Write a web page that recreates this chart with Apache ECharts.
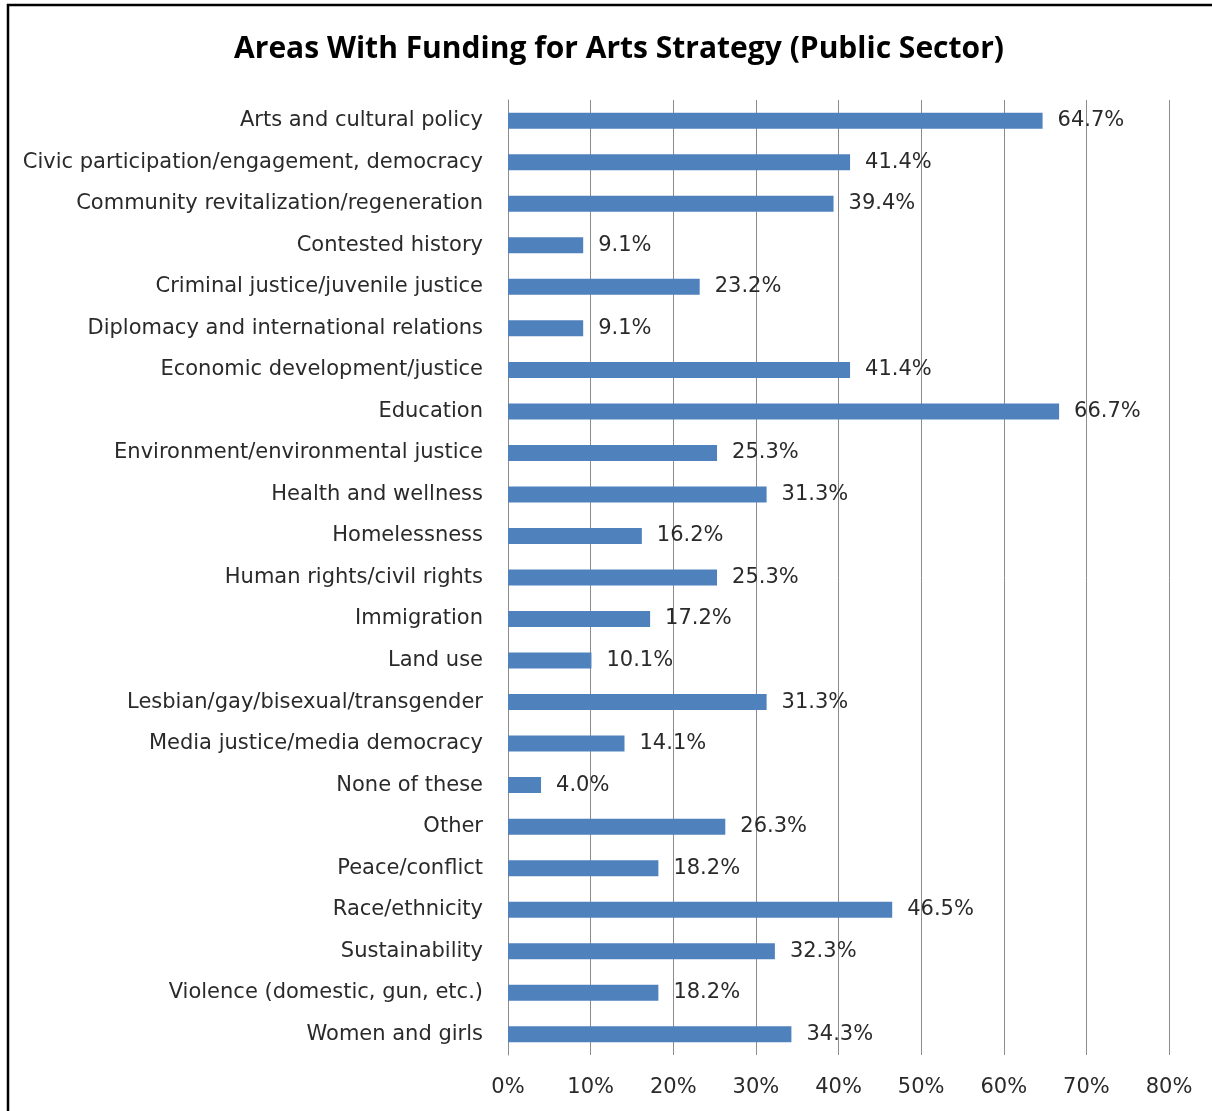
<!DOCTYPE html>
<html>
<head>
<meta charset="utf-8">
<script src="https://cdn.jsdelivr.net/npm/echarts@6/dist/echarts.min.js"></script>
<style>
  html, body { margin: 0; padding: 0; background: #fff; }
  #chart { width: 1212px; height: 1111px; }
</style>
</head>
<body>
<div id="chart"></div>
<script>
// Share of public-sector funders supporting each area (%)
const categories = [
  "Arts and cultural policy",
  "Civic participation/engagement, democracy",
  "Community revitalization/regeneration",
  "Contested history",
  "Criminal justice/juvenile justice",
  "Diplomacy and international relations",
  "Economic development/justice",
  "Education",
  "Environment/environmental justice",
  "Health and wellness",
  "Homelessness",
  "Human rights/civil rights",
  "Immigration",
  "Land use",
  "Lesbian/gay/bisexual/transgender",
  "Media justice/media democracy",
  "None of these",
  "Other",
  "Peace/conflict",
  "Race/ethnicity",
  "Sustainability",
  "Violence (domestic, gun, etc.)",
  "Women and girls"
];
const values = [64.7, 41.4, 39.4, 9.1, 23.2, 9.1, 41.4, 66.7, 25.3, 31.3, 16.2, 25.3,
                17.2, 10.1, 31.3, 14.1, 4.0, 26.3, 18.2, 46.5, 32.3, 18.2, 34.3];
const axisMax = 80;
const axisStep = 10;

const FONT = '"DejaVu Sans", "Open Sans", sans-serif';
const TITLE_FONT = '"Open Sans", Lato, sans-serif';
const chart = echarts.init(document.getElementById('chart'));
chart.setOption({
  animation: false,
  backgroundColor: '#ffffff',
  title: {
    text: 'Areas With Funding for Arts Strategy (Public Sector)',
    left: 614,
    textAlign: 'center',
    top: 29,
    textStyle: { fontFamily: TITLE_FONT, fontSize: 30, fontWeight: 'bold', color: '#000' }
  },
  graphic: [{
    type: 'polyline',
    shape: { points: [[8, 1111], [8, 5], [1212, 5]] },
    style: { stroke: '#000', lineWidth: 2.5, fill: null }
  }],
  grid: { left: 508, right: 43, top: 100, bottom: 56, containLabel: false },
  xAxis: {
    type: 'value',
    min: 0,
    max: axisMax,
    interval: axisStep,
    axisLine: { show: false },
    axisTick: { show: false },
    splitLine: { show: true, lineStyle: { color: '#8c8c8c', width: 1 } },
    axisLabel: {
      formatter: '{value}%',
      margin: 22,
      fontFamily: FONT, fontSize: 21, color: '#2a2a2a'
    }
  },
  yAxis: {
    type: 'category',
    data: categories,
    inverse: true,
    axisLine: { show: true, lineStyle: { color: '#8c8c8c', width: 1 } },
    axisTick: { show: false },
    axisLabel: { margin: 25, fontFamily: FONT, fontSize: 21, color: '#2a2a2a' }
  },
  series: [{
    type: 'bar',
    data: values,
    barWidth: 16,
    itemStyle: { color: '#4F81BD' },
    label: {
      show: true,
      position: 'right',
      distance: 15,
      formatter: p => p.value.toFixed(1) + '%',
      fontFamily: FONT, fontSize: 21, color: '#2a2a2a'
    }
  }]
});
</script>
</body>
</html>
